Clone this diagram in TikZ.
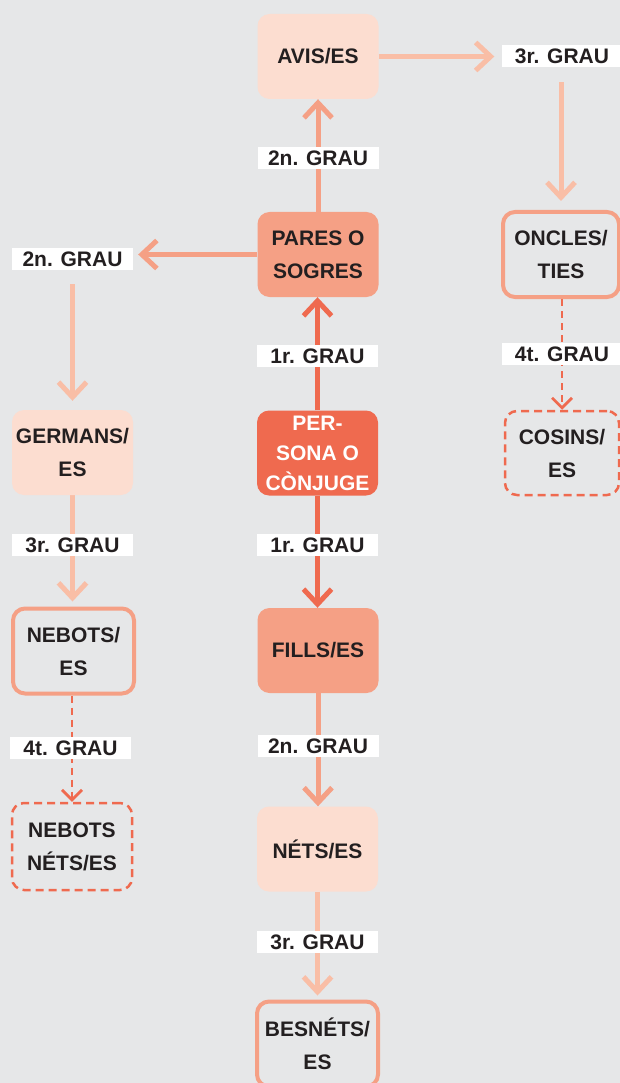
\documentclass[tikz,border=0pt]{standalone}
\usepackage{fontspec}
\setmainfont{Liberation Sans}
\usetikzlibrary{arrows.meta}
\definecolor{bgc}{HTML}{E6E7E8}
\definecolor{peach}{HTML}{FCDDD0}
\definecolor{salmon}{HTML}{F5A085}
\definecolor{redc}{HTML}{EF6A4F}
\definecolor{lightl}{HTML}{F9BEA6}
\definecolor{txt}{HTML}{231F20}
\pgfdeclarelayer{bg}
\pgfdeclarelayer{edges}
\pgfsetlayers{bg,edges,main}
\begin{document}
\begin{tikzpicture}[x=1pt,y=-1pt,
  box/.style={rectangle, rounded corners=12pt, minimum width=121pt, minimum height=85pt,
    align=center, inner sep=0pt, font=\fontsize{21}{33}\selectfont\bfseries, text=txt},
  fillA/.style={box, fill=peach},
  fillB/.style={box, fill=salmon},
  fillC/.style={box, fill=redc, text=white, font=\fontsize{21}{30}\selectfont\bfseries},
  outl/.style={box, draw=salmon, line width=4pt},
  dsh/.style={box, draw=redc, line width=2.5pt, dash pattern=on 8pt off 5pt},
  grau/.style={rectangle, fill=white, minimum width=121pt, minimum height=22pt, inner sep=0pt,
    font=\fontsize{21}{22}\selectfont\bfseries, text=txt},
  con/.style={line width=5pt, -{Straight Barb[length=15pt,width=28pt]}},
  clight/.style={con, draw=lightl},
  csalmon/.style={con, draw=salmon},
  cred/.style={con, draw=redc},
  cdash/.style={draw=redc, line width=2.8pt, dash pattern=on 7pt off 5pt,
    -{Straight Barb[length=10pt,width=20pt]}}
]
\begin{pgfonlayer}{bg}
  \fill[bgc] (0,0) rectangle (620,1083);
\end{pgfonlayer}
\useasboundingbox (0,0) rectangle (620,1083);

% boxes
\node[fillA] (avis) at (318,56.5) {AVIS/ES};
\node[fillB] (pares) at (318,254.5) {PARES O\\SOGRES};
\node[fillC] (pers) at (317.5,453) {PER-\\SONA O\\CÒNJUGE};
\node[fillB] (fills) at (318,650.5) {FILLS/ES};
\node[fillA] (nets) at (317.5,849) {NÉTS/ES};
\node[outl] (besn) at (317.5,1044) {BESNÉTS/\\ES};
\node[fillA] (germ) at (72.5,452.5) {GERMANS/\\ES};
\node[outl] (nebo) at (73.5,651) {NEBOTS/\\ES};
\node[dsh, minimum height=87pt, minimum width=120pt] (nn) at (72,846.5) {NEBOTS\\NÉTS/ES};
\node[outl, minimum width=116pt] (oncl) at (561,254.5) {ONCLES/\\TIES};
\node[dsh, minimum width=114pt, minimum height=84pt] (cosi) at (562,453) {COSINS/\\ES};

% labels
\node[grau] (l3a) at (562,56) {3r. GRAU};
\node[grau] (l2a) at (318,158) {2n. GRAU};
\node[grau] (l2b) at (72.5,259) {2n. GRAU};
\node[grau] (l1a) at (317.5,356) {1r. GRAU};
\node[grau] (l4a) at (562,354) {4t. GRAU};
\node[grau] (l3b) at (72.5,545) {3r. GRAU};
\node[grau] (l1b) at (317.5,545) {1r. GRAU};
\node[grau] (l4b) at (70.5,748) {4t. GRAU};
\node[grau] (l2c) at (318,746) {2n. GRAU};
\node[grau] (l3c) at (317.5,942) {3r. GRAU};

\begin{pgfonlayer}{edges}
  \draw[clight, shorten >=7pt] (avis.east) -- (avis.east -| l3a.west);
  \draw[clight, shorten <=15pt, shorten >=9pt] (l3a.south -| oncl.north) -- (oncl.north);
  \draw[csalmon] (pares.north) -- (avis.south);
  \draw[csalmon, shorten >=5pt] (pares.west) -- (pares.west -| l2b.east);
  \draw[clight, shorten <=14pt, shorten >=9pt] (l2b.south) -- (l2b.south |- germ.north);
  \draw[clight, shorten >=5pt] (germ.south) -- (germ.south |- nebo.north);
  \draw[cdash] (nebo.south -| nn.north) -- (nn.north);
  \draw[cdash] (oncl.south -| cosi.north) -- (cosi.north);
  \draw[cred] (pers.north) -- (pers.north |- pares.south);
  \draw[cred] (pers.south) -- (pers.south |- fills.north);
  \draw[csalmon] (fills.south) -- (fills.south |- nets.north);
  \draw[clight, shorten >=4pt] (nets.south) -- (nets.south |- besn.north);
\end{pgfonlayer}
\end{tikzpicture}
\end{document}
